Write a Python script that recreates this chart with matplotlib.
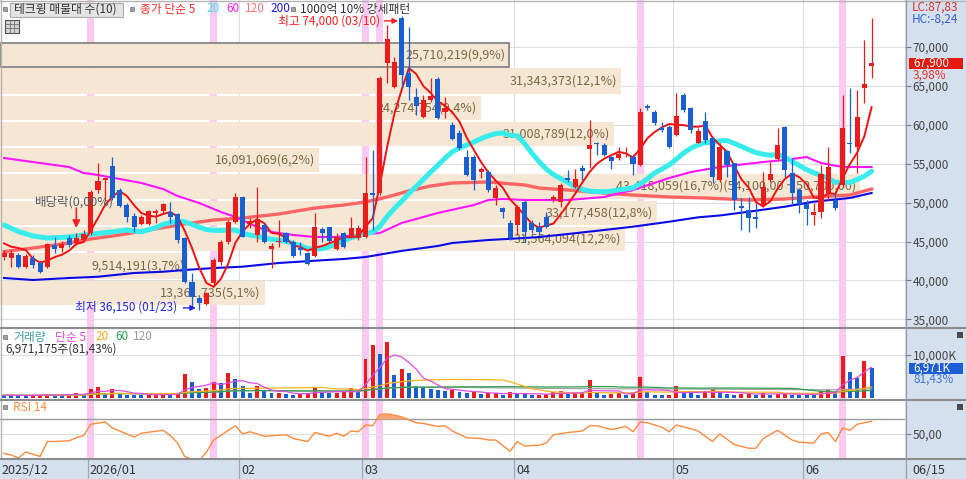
"""
테크윙 daily chart: candles, moving averages, volume profile (매물대), volume and RSI panels.
"""

import matplotlib

matplotlib.use("Agg")

import matplotlib.pyplot as plt
import matplotlib.transforms as mtransforms
import numpy as np
import pandas as pd
from matplotlib.lines import Line2D
from matplotlib.patches import Rectangle

plt.rcParams["font.family"] = ["Noto Sans CJK KR", "DejaVu Sans"]

# ------------------------------------------------------------------ data
opens = [43000, 42900, 43300, 41750, 42900, 42250, 41750, 44550, 44150, 45450,
         44800, 45200, 46100, 51650, 52900, 54700, 51600, 49700, 48300, 47250,
         47250, 48650, 48900, 48800, 48550, 45450, 39800, 37750, 37000, 39650,
         42400, 44950, 47500, 50700, 47250, 45850, 47100, 44050, 44950, 46100,
         44950, 44150, 43550, 43150, 46600, 46850, 44050, 46100, 45600, 45450,
         45600, 51250, 51250, 67950, 64850, 73750, 66650, 63550, 61000, 63200,
         65900, 61650, 59950, 58950, 55850, 55850, 53950, 53950, 50600, 49300,
         47400, 47150, 50100, 47400, 46850, 48150, 50350, 50100, 53150, 52000,
         54450, 56900, 57650, 57400, 55850, 55750, 56250, 55850, 54850, 62400,
         61650, 59600, 59700, 58700, 63850, 62150, 57650, 60500, 58300, 52900,
         56650, 55100, 49550, 49050, 48150, 49700, 52900, 55600, 59700, 53800,
         51600, 49850, 48400, 48800, 51250, 50350, 52250, 57650, 57150, 64750,
         67550]
highs = [43900, 43900, 43550, 43400, 43300, 42500, 44800, 45600, 45050, 45850,
         46100, 46500, 51600, 55100, 53300, 55850, 51900, 49950, 48650, 48400,
         49050, 49200, 49950, 50100, 48650, 45600, 40950, 37900, 38500, 42900,
         45200, 47750, 51250, 50850, 48000, 52000, 47400, 44800, 47750, 46250,
         45200, 44950, 43650, 48650, 46850, 46850, 46100, 46250, 48150, 47150,
         55850, 56750, 66300, 72800, 68700, 74000, 72550, 64750, 63850, 66000,
         66150, 63550, 60350, 59350, 56750, 56100, 54600, 54200, 52250, 49450,
         47750, 49700, 50350, 47750, 47500, 48800, 50950, 52500, 54200, 54300,
         54850, 60600, 57800, 57650, 56000, 57150, 57150, 56250, 62150, 62700,
         61900, 60350, 59950, 64100, 64100, 62300, 59600, 61650, 58450, 57650,
         56750, 55100, 50600, 50700, 49950, 53950, 55200, 59600, 59850, 55750,
         51900, 50350, 49950, 54850, 57150, 51250, 63850, 64750, 64500, 70900,
         73700]
lows = [42650, 41750, 41600, 41600, 41600, 40950, 41600, 43550, 43650, 44300,
        44550, 44950, 45850, 51250, 50200, 50350, 49450, 47500, 46250, 47150,
        47150, 47400, 48650, 47400, 44800, 39650, 36450, 36150, 36850, 39400,
        42000, 44700, 47400, 45600, 46750, 44950, 44800, 41600, 44300, 44800,
        43000, 43300, 42000, 43000, 44950, 44950, 43900, 44150, 45450, 45200,
        45450, 46500, 50950, 65400, 64750, 64750, 63200, 61250, 60900, 62950,
        60750, 60900, 58050, 56750, 53400, 51600, 53150, 51350, 49700, 48000,
        45200, 45850, 44950, 46100, 45700, 46750, 50100, 49450, 52650, 51900,
        52900, 54450, 56100, 56000, 54300, 55500, 55850, 53550, 54700, 61900,
        59950, 59100, 57000, 58550, 61650, 58950, 57650, 57650, 52500, 52650,
        53300, 49050, 46500, 46250, 46750, 49450, 52650, 55500, 53300, 49700,
        48650, 47150, 47150, 48000, 50350, 49050, 52000, 56400, 53800, 62800,
        66000]
closes = [43550, 43550, 41750, 43150, 42000, 41100, 44700, 44050, 44700, 44550,
          45450, 45950, 51350, 52800, 53150, 50600, 49550, 48150, 46850, 48150,
          48950, 48900, 49850, 48150, 45200, 39800, 37900, 37100, 38400, 42650,
          44950, 47500, 50700, 45600, 47650, 47900, 44950, 44450, 45050, 44950,
          43150, 43900, 42100, 46850, 46100, 45050, 45600, 44300, 46750, 46750,
          51250, 50950, 66000, 71000, 68100, 66400, 64850, 62400, 63200, 63700,
          60900, 62150, 58200, 57000, 53550, 52900, 54300, 51600, 51900, 48800,
          45450, 49450, 46250, 46500, 46250, 46850, 50700, 52250, 52900, 53050,
          54100, 57400, 57550, 56100, 55350, 56250, 56400, 54950, 61650, 62150,
          60250, 59350, 57150, 61150, 61900, 59350, 59200, 58050, 53300, 57150,
          54850, 50350, 49300, 48000, 47900, 52000, 53700, 57400, 54200, 51250,
          49850, 49200, 48800, 53700, 54600, 49300, 59600, 57550, 61000, 65300,
          67900]
# volume in thousands of shares
volumes_k = [630, 620, 600, 580, 640, 660, 1000, 620, 600, 1000,
             1050, 1000, 2100, 2550, 1000, 2100, 980, 780, 740, 720,
             760, 780, 900, 800, 1100, 5650, 3720, 2170, 2330, 3650,
             3490, 5880, 4420, 2720, 1160, 2720, 1550, 1100, 1250, 900,
             800, 900, 1150, 2500, 1250, 1150, 1200, 1300, 2330, 1400,
             9140, 12250, 10300, 13020, 5420, 6750, 5820, 2720, 2490, 2170,
             1930, 1560, 1930, 1500, 1200, 1300, 1000, 1050, 1100, 700,
             1400, 1000, 980, 780, 800, 850, 1400, 1550, 1000, 1050,
             1100, 4260, 1150, 800, 1000, 1050, 780, 1400, 4880, 1400,
             780, 760, 800, 2700, 1150, 1100, 780, 1400, 2000, 1400,
             1000, 780, 1000, 1050, 780, 1150, 780, 1000, 1050, 780,
             760, 740, 720, 1550, 2000, 1400, 9690, 6050, 4650, 8561,
             6971]
last_volume = 6971175

# moving averages that need history before the first candle
ma5_head_idx = [0, 1, 2, 3]
ma5_head = [44770, 44340, 44170, 43915]
ma20_head_idx = [0, 2, 4, 6, 9, 11, 14, 17]
ma20_head = [47130, 46290, 45715, 45455, 45585, 45845, 46140, 46485]
ma60_idx = [0, 4, 9, 11, 13, 16, 19, 22, 24, 27, 30, 32, 35, 37, 40, 43, 46, 49, 52, 55,
            60, 65, 67, 69, 72, 78, 83, 87, 92, 95, 99, 105, 108, 111, 113, 116, 120]
ma60_val = [55735, 55220, 54580, 53810, 53550, 53040, 52525, 51755, 50855, 49955,
            48800, 48155, 46870, 46230, 45845, 45585, 45585, 45845, 46100, 47385,
            48670, 49700, 50340, 50470, 50340, 50340, 50725, 51625, 53165, 53935,
            54580, 55220, 55480, 55865, 55095, 54580, 54580]
ma120_idx = [0, 4, 9, 12, 16, 20, 25, 29, 33, 38, 43, 47, 50, 53, 56, 59, 62, 67, 72, 74,
             78, 83, 87, 92, 97, 103, 108, 112, 117, 120]
ma120_val = [43700, 44170, 44815, 45330, 45845, 46485, 47255, 47770, 48025, 48540,
             49310, 49700, 50085, 50725, 51500, 52140, 52525, 52650, 52270, 51880,
             51625, 51240, 50980, 50725, 50600, 50340, 50470, 50725, 50980, 51755]
ma200_idx = [0, 4, 9, 13, 18, 22, 25, 29, 33, 38, 43, 47, 50, 55, 60, 62, 67, 72, 74, 78,
             83, 87, 92, 96, 99, 103, 108, 112, 117, 120]
ma200_val = [40315, 40060, 40315, 40480, 40960, 41125, 41345, 41600, 41770, 42245,
             42540, 42760, 43015, 43800, 44430, 44815, 45200, 45455, 45585, 45970,
             46485, 46910, 47550, 48115, 48350, 48835, 49480, 50120, 50600, 51240]

rsi_idx = [0, 1, 2, 3, 5, 6, 7, 9, 10, 11, 12, 14, 15, 18, 19, 22, 23, 24, 25, 26,
           27, 28, 29, 32, 33, 34, 36, 39, 40, 42, 43, 45, 46, 47, 48, 49, 50, 51, 52, 53,
           55, 57, 58, 60, 61, 62, 64, 66, 67, 68, 70, 71, 72, 74, 75, 76, 78, 80, 81, 82,
           84, 86, 87, 88, 89, 91, 92, 93, 95, 96, 98, 99, 101, 103, 104, 105, 107, 109, 110, 112,
           113, 114, 115, 116, 117, 118, 120]
rsi_val = [24, 22, 18, 26, 20, 40, 40, 41, 45, 48, 63, 66, 58, 46, 51, 55, 48, 38, 20, 16,
           14, 26, 42, 61, 50, 53, 47, 49, 44, 40, 52, 47, 51, 47, 54, 53, 62, 61, 76, 77,
           73, 65, 64, 60, 61, 54, 45, 44, 42, 42, 27, 40, 34, 35, 38, 49, 52, 54, 61, 61,
           56, 60, 53, 66, 65, 59, 53, 62, 57, 54, 40, 50, 36, 31, 31, 44, 55, 42, 39, 38,
           50, 52, 40, 58, 55, 63, 67]

# volume profile: 10 price bands (low -> high) and traded volume per band
vp_edges = [36720, 40060, 43660, 47000, 50340, 53810, 57150, 60490, 63830, 67430, 70515]
vp_volumes = [13361735, 9514191, 31564094, 33177458, 43418059,
              16091069, 31008789, 24274754, 31343373, 25710219]
vp_max_range = (54100, 50700)

month_starts = [12, 33, 50, 71, 93, 111]
month_labels = ["2026/01", "02", "03", "04", "05", "06"]
first_label = "2025/12"
end_label = "06/15"
signal_days = [12, 29, 50, 52, 88, 116]   # 1000억 10% 강세패턴
ex_div_day = 10
hi_date = "03/10"
lo_date = "01/23"

# ---------------------------------------------------------------- layout
W, H = 966, 479
PLOT_R = 905
X0_PX, DX_PX = 4.0, 7.23
PRICE_BOT, VOL_BOT, RSI_BOT = 328, 400, 459
PRICE_LIM = (33892, 76040)
VOL_LIM = (-465, 16280)
RSI_LIM = (16.67, 95.33)
FS = 8.5       # general text
FS_VP = 9      # volume-profile labels

RED = "#ec1c1c"
BLUE = "#1a5fd2"
STRIP = "#d5e0ee"
GRID = "#dedede"


def fig_rect(x0, y0, x1, y1):
    return [x0 / W, 1 - y1 / H, (x1 - x0) / W, (y1 - y0) / H]


def px_text(fig, x, y, s, **kw):
    kw.setdefault("fontsize", FS)
    kw.setdefault("va", "center")
    return fig.text(x / W, 1 - y / H, s, **kw)


def px_box(fig, x0, y0, x1, y1, **kw):
    r = Rectangle((x0 / W, 1 - y1 / H), (x1 - x0) / W, (y1 - y0) / H,
                  transform=fig.transFigure, **kw)
    fig.add_artist(r)
    return r


def px_line(fig, xs, ys, **kw):
    fig.add_artist(Line2D([x / W for x in xs], [1 - y / H for y in ys],
                          transform=fig.transFigure, **kw))


def kfmt(v, nd):
    return f"{v:.{nd}f}".replace(".", ",")


fig = plt.figure(figsize=(W / 100, H / 100), dpi=100)
px_box(fig, PLOT_R, 0, W, H, facecolor=STRIP, edgecolor="none", zorder=-5)

xlim = (-X0_PX / DX_PX, (PLOT_R - X0_PX) / DX_PX)
ax = fig.add_axes(fig_rect(0, 0, PLOT_R, PRICE_BOT))
axv = fig.add_axes(fig_rect(0, PRICE_BOT, PLOT_R, VOL_BOT))
axr = fig.add_axes(fig_rect(0, VOL_BOT, PLOT_R, RSI_BOT))
axd = fig.add_axes(fig_rect(0, RSI_BOT, PLOT_R, H))

for a in (ax, axv, axr, axd):
    a.set_xlim(*xlim)
    for s in a.spines.values():
        s.set_visible(False)
    a.set_xticks([])
    a.tick_params(axis="y", left=False, labelleft=False, right=True, labelright=True,
                  direction="out", length=4, width=0.8, color="#7a7a7a",
                  labelsize=8.5, labelcolor="#444444", pad=1.5)

grid_x = [m - 0.45 for m in month_starts]
for a in (ax, axv, axr):
    for gx in grid_x:
        a.axvline(gx, color=GRID, lw=0.8, zorder=0.5)
    for d in signal_days:
        a.axvspan(d - 0.48, d + 0.48, color="#fcc9f3", lw=0, zorder=0.8)

# ---------------------------------------------------------------- price panel
o, h, l, c = (np.array(v, float) for v in (opens, highs, lows, closes))
n = len(c)
idx = np.arange(n)
ax.set_ylim(*PRICE_LIM)
ppp = (PRICE_LIM[1] - PRICE_LIM[0]) / PRICE_BOT   # price per pixel

price_ticks = list(range(35000, 70001, 5000))
for p in price_ticks:
    ax.axhline(p, color=GRID, lw=0.8, zorder=0.5)
ax.set_yticks(price_ticks)
ax.set_yticklabels([f"{p:,}" for p in price_ticks])

blend = mtransforms.blended_transform_factory(ax.transAxes, ax.transData)
vp_max = max(vp_volumes)
vp_total = sum(vp_volumes)
bar_full = 860 / PLOT_R
for lo, hi, v in zip(vp_edges[:-1], vp_edges[1:], vp_volumes):
    w = v / vp_max * bar_full
    ax.add_patch(Rectangle((0, lo + 0.7 * ppp), w, hi - lo - 1.4 * ppp, transform=blend,
                           facecolor="#f6e7d5", edgecolor="none", zorder=1))
    if lo <= c[-1] < hi:
        ax.add_patch(Rectangle((0, lo), w, hi - lo, transform=blend, facecolor="none",
                               edgecolor="#8e8e8e", lw=1.4, zorder=1.2))
    label = f"{v:,}({kfmt(v / vp_total * 100, 1)}%)"
    if v == vp_max:
        label += f"({vp_max_range[0]:,},00 ~ {vp_max_range[1]:,},00)"
    ax.text(w - 4 / PLOT_R, (lo + hi) / 2, label, transform=blend, ha="right",
            va="center", fontsize=FS_VP, color="#7a6843", zorder=1.5)

cs = pd.Series(c)
ma5 = cs.rolling(5).mean().to_numpy()
ma20 = cs.rolling(20).mean().to_numpy()
ax.plot(ma200_idx, ma200_val, color="#0a0ae6", lw=1.5, zorder=2)
ax.plot(ma120_idx, ma120_val, color="#ff6464", lw=2.4, zorder=2.1)
ax.plot(ma60_idx, ma60_val, color="#ff14ff", lw=1.5, zorder=2.2)
ax.plot(ma20_head_idx + list(idx[19:]), ma20_head + list(ma20[19:]),
        color="#38ecec", lw=3.6, zorder=2.3, solid_capstyle="round")
ax.plot(ma5_head_idx + list(idx[4:]), ma5_head + list(ma5[4:]), color="#f41010",
        lw=1.4, zorder=2.5)

up = c >= o
ccol = np.where(up, RED, BLUE)
ax.vlines(idx, l, h, colors=ccol, lw=0.9, zorder=4)
ax.bar(idx, np.maximum(np.abs(c - o), 1.2 * ppp), bottom=np.minimum(o, c), width=0.7,
       color=ccol, lw=0, zorder=4.1)

# high / low / ex-dividend notes
i_hi, i_lo = int(np.argmax(h)), int(np.argmin(l))
y_hi = h[i_hi] - 5 * ppp
ax.annotate("", xy=(i_hi - 0.5, y_hi), xytext=(i_hi - 2.4, y_hi),
            arrowprops=dict(arrowstyle="-|>", color="#ff1e1e", lw=1, mutation_scale=8,
                            shrinkA=0, shrinkB=0), zorder=5)
ax.text(i_hi - 2.95, y_hi, f"최고 {h[i_hi]:,.0f} ({hi_date})", ha="right", va="center",
        fontsize=FS, color="#ff1e1e", zorder=5)
y_lo = l[i_lo] + 2.5 * ppp
ax.annotate("", xy=(i_lo - 0.45, y_lo), xytext=(i_lo - 2.2, y_lo),
            arrowprops=dict(arrowstyle="-|>", color="#2424e8", lw=1, mutation_scale=8,
                            shrinkA=0, shrinkB=0), zorder=5)
ax.text(i_lo - 3.0, y_lo + 0.8 * ppp, f"최저 {l[i_lo]:,.0f} ({lo_date})", ha="right",
        va="center", fontsize=FS, color="#2424e8", zorder=5)
hx = h[ex_div_day]
ax.annotate("", xy=(ex_div_day, hx + 5 * ppp), xytext=(ex_div_day, hx + 25 * ppp),
            arrowprops=dict(arrowstyle="-|>", color="#ff1e1e", lw=1.2, mutation_scale=11,
                            shrinkA=0, shrinkB=0), zorder=5)
ax.text(ex_div_day - 0.3, hx + 31 * ppp, "배당락(0,00%)", ha="center", va="center",
        fontsize=FS_VP, color="#5a5a5a", zorder=5)

# ---------------------------------------------------------------- volume panel
vol = np.array(volumes_k, float)
vcol = [BLUE] + [RED if vol[i] >= vol[i - 1] else BLUE for i in range(1, n)]
axv.set_ylim(*VOL_LIM)
axv.axhline(10000, color=GRID, lw=0.8, zorder=0.5)
axv.bar(idx, vol, width=0.55, color=vcol, lw=0, zorder=2)
vs = pd.Series(vol)
for win, col in ((120, "#a4a4a4"), (60, "#2f9e4f"), (20, "#f7b21c"), (5, "#e04ce0")):
    axv.plot(idx, vs.rolling(win, min_periods=1).mean(), color=col, lw=0.9, zorder=3)
axv.set_yticks([10000])
axv.set_yticklabels(["10,000K"])

# ---------------------------------------------------------------- RSI panel
rv = np.array(rsi_val, float)
axr.set_ylim(*RSI_LIM)
axr.axhline(70, color="#9c9c9c", lw=1, zorder=1)
axr.axhline(50, color=GRID, lw=0.8, zorder=1)
axr.fill_between(rsi_idx, rv, 70, where=rv > 70, interpolate=True, color="#f6a673",
                 lw=0, zorder=2.5)
axr.plot(rsi_idx, rv, color="#ff8a3d", lw=1.0, zorder=3)
axr.set_yticks([50])
axr.set_yticklabels(["50,00"])

# ---------------------------------------------------------------- date strip
axd.set_facecolor(STRIP)
axd.set_ylim(0, 1)
axd.set_yticks([])
for gx in grid_x:
    axd.axvline(gx, color="#9fa6b2", lw=0.9)
axd.text(-0.3, 0.4, first_label, ha="left", va="center", fontsize=FS_VP, color="#333333")
for gx, lab in zip(grid_x, month_labels):
    axd.text(gx + 0.3, 0.4, lab, ha="left", va="center", fontsize=FS_VP, color="#333333")
px_text(fig, 912, 471, end_label, color="#333333", fontsize=FS_VP)

# ---------------------------------------------------------------- frame lines
px_line(fig, [0, W], [0.5, 0.5], color="#b4b4b4", lw=1)
px_line(fig, [0.5, 0.5], [0, RSI_BOT], color="#b4b4b4", lw=1)
for yy in (PRICE_BOT, VOL_BOT, RSI_BOT):
    px_line(fig, [0, W], [yy, yy], color="#8c8c8c", lw=1.5)
px_line(fig, [PLOT_R + 0.5] * 2, [0, H], color="#9a9a9a", lw=0.9)

# ---------------------------------------------------------------- headers
px_box(fig, 3, 7, 7, 11, facecolor="#a0a0a0", edgecolor="#707070", lw=0.5)
px_box(fig, 10, 2.5, 123, 16.5, facecolor="#e4e4e4", edgecolor="#ababab", lw=0.8)
px_text(fig, 14, 9, "테크윙 매물대 수(10)", color="#333333")
px_box(fig, 130, 7, 134, 11, facecolor="#a0a0a0", edgecolor="#707070", lw=0.5)
px_text(fig, 140, 9, "종가 단순 5", color="#ff2a2a")
px_text(fig, 206, 9, "20", color="#3ee0e0")
px_text(fig, 226, 9, "60", color="#ff20ff")
px_text(fig, 245, 9, "120", color="#ff7777")
px_text(fig, 270, 9, "200", color="#1a1aff")
px_box(fig, 291, 7, 295, 11, facecolor="#a0a0a0", edgecolor="#707070", lw=0.5)
px_text(fig, 300, 9, "1000억 10% 강세패턴", color="#333333")

px_box(fig, 5, 19.5, 18.5, 32.5, facecolor="#d4d4d4", edgecolor="#505050", lw=0.8)
for gx in (9.5, 14):
    px_line(fig, [gx, gx], [19.5, 32.5], color="#707070", lw=0.6)
for gy in (24, 28):
    px_line(fig, [5, 18.5], [gy, gy], color="#707070", lw=0.6)

px_box(fig, 3, 335, 7, 339, facecolor="#a0a0a0", edgecolor="#707070", lw=0.5)
px_text(fig, 13, 337, "거래량", color="#3a9ea2")
px_text(fig, 55, 337, "단순 5", color="#e04ce0")
px_text(fig, 95, 337, "20", color="#f2a91a")
px_text(fig, 115, 337, "60", color="#2f9e4f")
px_text(fig, 133, 337, "120", color="#9a9a9a")
prev_ratio = last_volume / (vol[-2] * 1000) * 100
px_text(fig, 5, 349.5, f"{last_volume:,}주({kfmt(prev_ratio, 2)}%)", color="#333333")

px_box(fig, 3, 405, 7, 409, facecolor="#a0a0a0", edgecolor="#707070", lw=0.5)
px_text(fig, 13, 407.5, "RSI 14", color="#ff8a3d")

# ---------------------------------------------------------------- right strip
lc = (c[-1] / l.min() - 1) * 100
hc = (c[-1] / h.max() - 1) * 100
px_text(fig, 912, 7.5, f"LC:{kfmt(lc, 2)}", color="#e03030")
px_text(fig, 912, 19.5, f"HC:{kfmt(hc, 2)}", color="#3060e0")

right = mtransforms.blended_transform_factory(fig.transFigure, ax.transData)
ax.add_patch(Rectangle((909 / W, c[-1] - 5.5 * ppp), 54 / W, 11 * ppp, transform=right,
                       facecolor="#e8180c", edgecolor="none", clip_on=False, zorder=6))
ax.text(913 / W, c[-1], f"{c[-1]:,.0f}", transform=right, ha="left", va="center",
        fontsize=8.5, color="white", clip_on=False, zorder=7)
ax.text(913 / W, c[-1] - 12 * ppp, f"{kfmt((c[-1] / c[-2] - 1) * 100, 2)}%",
        transform=right, ha="left", va="center", fontsize=8.5, color="#e83030",
        clip_on=False, zorder=7)

vppp = (VOL_LIM[1] - VOL_LIM[0]) / (VOL_BOT - PRICE_BOT)
vright = mtransforms.blended_transform_factory(fig.transFigure, axv.transData)
axv.add_patch(Rectangle((909 / W, vol[-1] - 5.5 * vppp), 54 / W, 11 * vppp, transform=vright,
                        facecolor="#1d5ed6", edgecolor="none", clip_on=False, zorder=6))
axv.text(913 / W, vol[-1], f"{round(last_volume / 1000):,}K", transform=vright, ha="left",
         va="center", fontsize=8.5, color="white", clip_on=False, zorder=7)
axv.text(913 / W, vol[-1] - 11.5 * vppp, f"{kfmt(prev_ratio, 2)}%", transform=vright,
         ha="left", va="center", fontsize=8.5, color="#3a75e0", clip_on=False, zorder=7)

px_box(fig, 957, 332, 963, 338, facecolor="#4a4a4a", edgecolor="none")
px_box(fig, 957, 404, 963, 410, facecolor="#4a4a4a", edgecolor="none")

fig.savefig("out.png", dpi=100)
